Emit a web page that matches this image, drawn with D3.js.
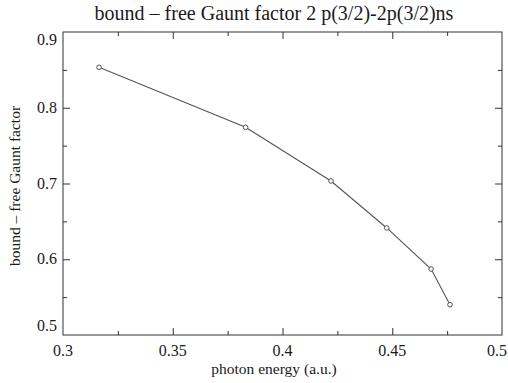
<!DOCTYPE html>
<html>
<head>
<meta charset="utf-8">
<script src="https://cdn.jsdelivr.net/npm/d3@7"></script>
<style>
  body { margin: 0; background: #fff; }
</style>
</head>
<body>
<div id="chart"></div>
<script>
// photon energy (a.u.) and gaunt factor
const energy = [0.3164, 0.3832, 0.4221, 0.4475, 0.4677, 0.4763];
const gaunt = [0.8534, 0.7742, 0.7033, 0.6413, 0.5871, 0.5400];
const xTicks = [0.3, 0.35, 0.4, 0.45, 0.5];
const yTicks = [0.5, 0.6, 0.7, 0.8, 0.9];

const width = 508, height = 383;
const margin = { top: 32, right: 6, bottom: 48, left: 63 };

const svg = d3.select('#chart').append('svg')
  .attr('width', width)
  .attr('height', height)
  .attr('font-family', "'Liberation Serif', 'Times New Roman', serif");

const x = d3.scaleLinear().domain([0.3, 0.5]).range([margin.left, width - margin.right]);
const y = d3.scaleLinear().domain([0.5, 0.9]).range([height - margin.bottom, margin.top]);

const axisColor = '#333';
const textColor = '#1a1a1a';

// frame
svg.append('rect')
  .attr('x', x(0.3)).attr('y', y(0.9))
  .attr('width', x(0.5) - x(0.3)).attr('height', y(0.5) - y(0.9))
  .attr('fill', 'none').attr('stroke', axisColor).attr('stroke-width', 1);

// inward ticks on all four sides
const xMinor = d3.range(0.325, 0.5, 0.05);
const yMinor = d3.range(0.55, 0.9, 0.05).filter(v => Math.abs(v * 10 - Math.round(v * 10)) > 0.01);
const addAxis = (axis, tx, ty, size) => {
  const g = svg.append('g').attr('transform', `translate(${tx},${ty})`)
    .call(axis.tickSize(size).tickFormat(''));
  g.select('.domain').remove();
  g.selectAll('line').attr('stroke', axisColor);
};
addAxis(d3.axisTop(x).tickValues(xTicks.slice(1, -1)), 0, y(0.5), 7);
addAxis(d3.axisTop(x).tickValues(xMinor), 0, y(0.5), 4);
addAxis(d3.axisBottom(x).tickValues(xTicks.slice(1, -1)), 0, y(0.9), 7);
addAxis(d3.axisBottom(x).tickValues(xMinor), 0, y(0.9), 4);
addAxis(d3.axisRight(y).tickValues(yTicks.slice(1, -1)), x(0.3), 0, 7);
addAxis(d3.axisRight(y).tickValues(yMinor), x(0.3), 0, 4);
addAxis(d3.axisLeft(y).tickValues(yTicks.slice(1, -1)), x(0.5), 0, 7);
addAxis(d3.axisLeft(y).tickValues(yMinor), x(0.5), 0, 4);

// tick labels (end labels pulled inward like the original)
const last = xTicks.length - 1;
svg.append('g').selectAll('text').data(xTicks).join('text')
  .attr('x', (d, i) => x(d) + (i === last ? -5 : 0)).attr('y', y(0.5) + 21)
  .attr('text-anchor', 'middle').attr('font-size', 16).attr('fill', textColor)
  .text(d => d3.format('')(d));
svg.append('g').selectAll('text').data(yTicks).join('text')
  .attr('x', x(0.3) - 6)
  .attr('y', (d, i) => y(d) + 5 + (i === 0 ? -9 : i === yTicks.length - 1 ? 8 : 0))
  .attr('text-anchor', 'end').attr('font-size', 16).attr('fill', textColor)
  .text(d => d3.format('.1f')(d));

// titles
svg.append('text')
  .attr('x', 274).attr('y', 20)
  .attr('text-anchor', 'middle').attr('font-size', 20).attr('fill', textColor)
  .text('bound \u2013 free Gaunt factor 2 p(3/2)-2p(3/2)ns');
svg.append('text')
  .attr('x', 274).attr('y', 374)
  .attr('text-anchor', 'middle').attr('font-size', 15.5).attr('fill', textColor)
  .text('photon energy (a.u.)');
svg.append('text')
  .attr('transform', 'translate(20,186) rotate(-90)')
  .attr('text-anchor', 'middle').attr('font-size', 15.5).attr('fill', textColor)
  .text('bound \u2013 free Gaunt factor');

// data line and markers
const pts = energy.map((e, i) => [e, gaunt[i]]);
svg.append('path')
  .datum(pts)
  .attr('d', d3.line().x(d => x(d[0])).y(d => y(d[1])))
  .attr('fill', 'none').attr('stroke', '#555').attr('stroke-width', 1.1);
svg.append('g').selectAll('circle').data(pts).join('circle')
  .attr('cx', d => x(d[0])).attr('cy', d => y(d[1]))
  .attr('r', 2.3)
  .attr('fill', '#fff').attr('stroke', '#555').attr('stroke-width', 1);
</script>
</body>
</html>
